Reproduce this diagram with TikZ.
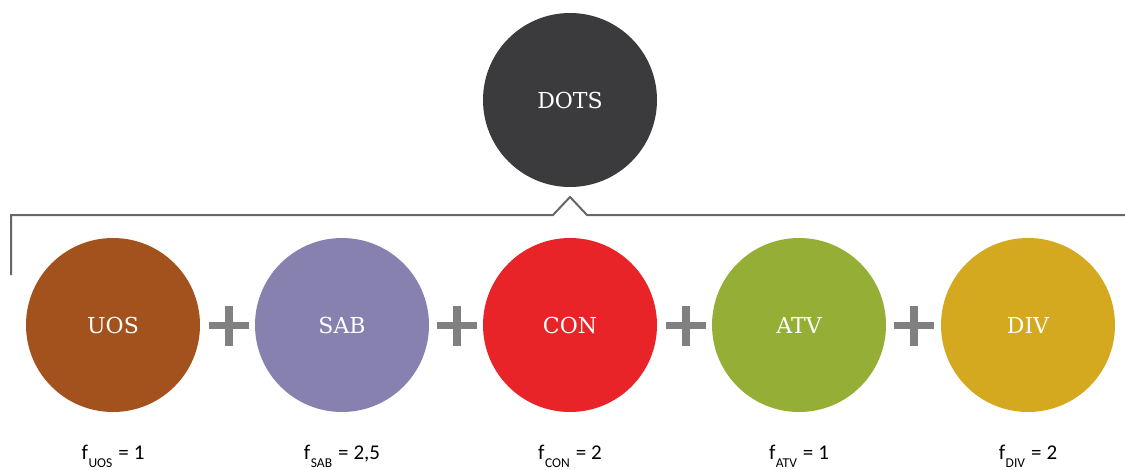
\documentclass[tikz,border=0pt]{standalone}
\usepackage{fontspec}
\setmainfont{DejaVu Serif}
\newfontfamily\labfont{Carlito}
\definecolor{cdots}{HTML}{3B3B3D}
\definecolor{cuos}{HTML}{A3511D}
\definecolor{csab}{HTML}{8781B0}
\definecolor{ccon}{HTML}{E82428}
\definecolor{catv}{HTML}{95AE36}
\definecolor{cdiv}{HTML}{D4A81F}
\definecolor{cline}{HTML}{666666}
\definecolor{cplus}{HTML}{808080}
\newcommand{\fsub}[2]{f\hspace{0.5pt}\raisebox{-7.5pt}{\fontsize{13.5}{13.5}\selectfont #1}\hspace{6pt}=\hspace{5pt}#2}
\begin{document}
\begin{tikzpicture}[x=1pt,y=-1pt,
  disc/.style={circle,minimum size=174pt,inner sep=0pt,text=white,font=\fontsize{22}{22}\selectfont},
  flabel/.style={anchor=base,inner sep=0pt,font=\labfont\fontsize{21}{21}\selectfont},
  bracket/.style={draw=cline,line width=2pt,line join=miter}]
\useasboundingbox (0,0) rectangle (1125,469);
\node[disc,fill=cdots] (dots) at (570,100) {DOTS};
\node[disc,fill=cuos] (uos) at (113,325) {UOS};
\node[disc,fill=csab] (sab) at (342,325) {SAB};
\node[disc,fill=ccon] (con) at (570,325) {CON};
\node[disc,fill=catv] (atv) at (799,325) {ATV};
\node[disc,fill=cdiv] (div) at (1028,325) {DIV};
\coordinate (bl) at (11,275);
\coordinate (tl) at (11,215);
\coordinate (nl) at (553,215);
\coordinate (np) at (570,197);
\coordinate (nr) at (587,215);
\coordinate (tr) at (1125,215);
\draw[bracket] (bl) -- (tl) -- (nl) -- (np) -- (nr) -- (tr);
\foreach \x in {228.5,457,685.5,914}{
  \fill[cplus] (\x-20,322) rectangle (\x+20,329);
  \fill[cplus] (\x-4,306) rectangle (\x+4,346);
}
\node[flabel] (fuos) at (113,459.5) {\fsub{UOS}{1}};
\node[flabel] (fsab) at (342,459.5) {\fsub{SAB}{2,5}};
\node[flabel] (fcon) at (570,459.5) {\fsub{CON}{2}};
\node[flabel] (fatv) at (799,459.5) {\fsub{ATV}{1}};
\node[flabel] (fdiv) at (1028,459.5) {\fsub{DIV}{2}};
\end{tikzpicture}
\end{document}
